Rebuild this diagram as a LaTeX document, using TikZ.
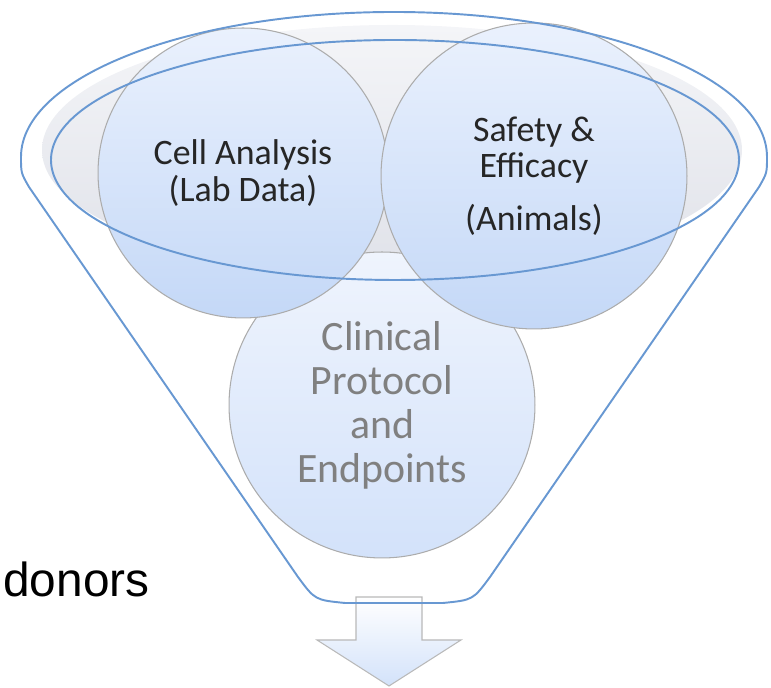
\documentclass[tikz,border=0pt]{standalone}
\usepackage{fontspec}
\newfontfamily\calibri{Carlito}
\newfontfamily\arialfont{Liberation Sans}
\usetikzlibrary{positioning}
\definecolor{rim}{RGB}{104,152,210}
\definecolor{bubtop}{RGB}{234,241,253}
\definecolor{bubbot}{RGB}{196,216,247}
\definecolor{lowtop}{RGB}{239,244,253}
\definecolor{lowbot}{RGB}{211,226,250}
\definecolor{mouthtop}{RGB}{244,245,248}
\definecolor{mouthbot}{RGB}{224,226,233}
\definecolor{inktext}{RGB}{38,38,38}

\begin{document}
\begin{tikzpicture}[x=0.02cm,y=0.02cm,
  funnel/.style={draw=rim,line width=1.1pt},
  bubble/.style={circle,draw=gray!65,line width=0.6pt,top color=bubtop,bottom color=bubbot,
    align=center,inner sep=0pt,text=inktext,font=\calibri\fontsize{20.4}{20.8}\selectfont},
  lowbubble/.style={bubble,top color=lowtop,bottom color=lowbot,text=gray,
    font=\calibri\fontsize{23.8}{25}\selectfont},
  blockarrow/.style={draw=gray!55,line width=0.6pt,top color=white,bottom color=lowbot}]
\useasboundingbox (0,0) rectangle (771,688);
\shade[top color=mouthtop,bottom color=mouthbot] (392,538) ellipse [x radius=350,y radius=125];
\node[lowbubble,minimum size=6.12cm] (protocol) at (382,283) {Clinical\\Protocol\\and\\Endpoints};
\node[bubble,minimum size=5.8cm] (lab) at (243,515) {Cell Analysis\\(Lab Data)};
\node[bubble,minimum size=6.12cm] (animals) at (534,512) {Safety \&\\Efficacy\\[9pt](Animals)};
\draw[blockarrow] (356,91) -- (422,91) -- (422,48) -- (461,48) -- (389,2) -- (317,48) -- (356,48) -- cycle;
\draw[funnel] (395,528) ellipse [x radius=344,y radius=120];
\draw[funnel] (21,531) arc[start angle=180,end angle=0,x radius=373,y radius=145]
  .. controls (767,515) .. (759,501) -- (490,111) .. controls (473,88) .. (443,85) -- (345,85)
  .. controls (315,88) .. (298,111) -- (29,501) .. controls (21,515) .. (21,531);
\node[anchor=base west,inner sep=0pt,font=\arialfont\fontsize{27.2}{30}\selectfont] (donors) at (3,91) {donors};
\end{tikzpicture}
\end{document}
